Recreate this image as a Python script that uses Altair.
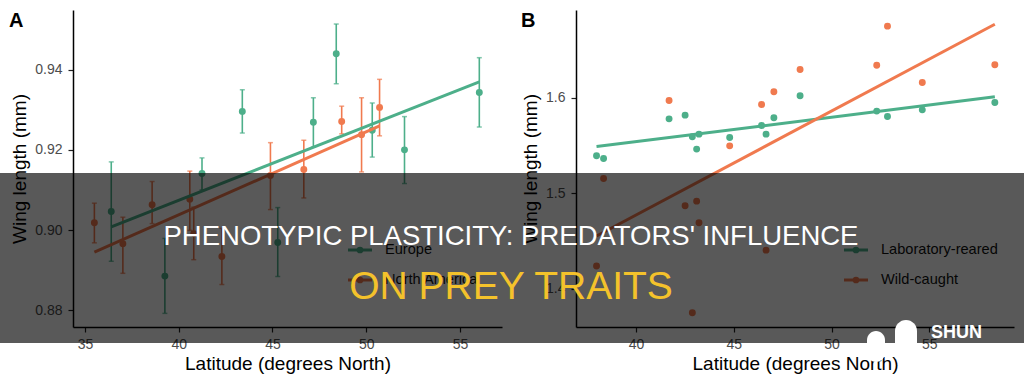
import altair as alt
import pandas as pd

# ---------------- Panel A: population means with error bars ----------------
eu_lat = [36.4, 39.26, 41.24, 43.39, 45.28, 47.18, 48.4, 50.32, 52.04, 56.03]
eu_wing = [0.9046, 0.8885, 0.9141, 0.9296, 0.8969, 0.9269, 0.9440, 0.9249, 0.9200, 0.9343]
eu_lo = [0.8922, 0.8792, 0.9100, 0.9242, 0.8884, 0.9207, 0.9365, 0.9182, 0.9116, 0.9257]
eu_hi = [0.9170, 0.8979, 0.9180, 0.9350, 0.9056, 0.9330, 0.9514, 0.9317, 0.9283, 0.9430]

na_lat = [35.5, 37.02, 38.58, 40.59, 40.8, 42.3, 44.89, 46.67, 48.69, 49.75, 50.71]
na_wing = [0.9018, 0.8966, 0.9063, 0.9077, 0.8991, 0.8934, 0.9136, 0.9151, 0.9271, 0.9238, 0.9306]
na_lo = [0.8968, 0.8892, 0.9016, 0.8999, 0.8926, 0.8864, 0.9051, 0.9080, 0.9240, 0.9145, 0.9235]
na_hi = [0.9067, 0.9032, 0.9121, 0.9147, 0.9057, 0.9004, 0.9218, 0.9224, 0.9309, 0.9330, 0.9376]

# ---------------- Panel B: lab-reared vs wild-caught, same populations ----------------
b_lat = [37.98, 38.34, 41.69, 42.51, 42.88, 43.10, 43.22, 44.79,
         46.42, 46.65, 47.05, 48.39, 52.31, 52.86, 54.64, 58.35]
lab_wing = [1.5393, 1.5365, 1.5780, 1.5819, 1.5592, 1.5463, 1.5620, 1.5585,
            1.5711, 1.5620, 1.5791, 1.6021, 1.5861, 1.5805, 1.5874, 1.5952]
wild_wing = [1.4238, 1.5156, 1.5973, 1.4869, 1.3749, 1.4918, 1.4691, 1.5497,
             1.5931, 1.4405, 1.6063, 1.6297, 1.6342, 1.6751, 1.6161, 1.6346]

series_a = ["Europe", "North America"]
series_b = ["Laboratory-reared", "Wild-caught"]

FONT = "Liberation Sans"
GREEN = "#4DAF8A"
ORANGE = "#F07A4F"
PALETTE = [GREEN, ORANGE]

headline = "PHENOTYPIC PLASTICITY: PREDATORS' INFLUENCE"
subline = "ON PREY TRAITS"
brand = "SHUN"

dfA = pd.concat([
    pd.DataFrame({"series": series_a[0], "lat": eu_lat, "wing": eu_wing, "lo": eu_lo, "hi": eu_hi}),
    pd.DataFrame({"series": series_a[1], "lat": na_lat, "wing": na_wing, "lo": na_lo, "hi": na_hi}),
], ignore_index=True)

dfB = pd.concat([
    pd.DataFrame({"series": series_b[0], "lat": b_lat, "wing": lab_wing}),
    pd.DataFrame({"series": series_b[1], "lat": b_lat, "wing": wild_wing}),
], ignore_index=True)

one = pd.DataFrame({"k": [0]})

W_A, W_B, H = 429, 438, 317

x_title = "Latitude (degrees North)"
y_title = "Wing length (mm)"


def x_enc(domain, ticks):
    return alt.X("lat:Q", scale=alt.Scale(domain=domain, nice=False, zero=False),
                 axis=alt.Axis(values=ticks, title=x_title, titlePadding=3))


def y_enc(field, domain, ticks, fmt):
    return alt.Y(f"{field}:Q", scale=alt.Scale(domain=domain, nice=False, zero=False),
                 axis=alt.Axis(values=ticks, format=fmt, title=y_title, titlePadding=5, labelPadding=6))


def color_enc(names):
    return alt.Color("series:N", scale=alt.Scale(domain=names, range=PALETTE), legend=None)


def legend_layers(names, x0, y0):
    out = []
    for i, (name, col) in enumerate(zip(names, PALETTE)):
        yy = y0 + 30 * i
        base = alt.Chart(one)
        out.append(base.mark_rule(color=col, strokeWidth=3).encode(
            x=alt.value(x0), x2=alt.value(x0 + 24), y=alt.value(yy)))
        out.append(base.mark_circle(color=col, size=45, opacity=1).encode(
            x=alt.value(x0 + 12), y=alt.value(yy)))
        out.append(base.mark_text(text=name, font=FONT, fontSize=14.6, color="#111",
                                  align="left", baseline="middle").encode(
            x=alt.value(x0 + 37), y=alt.value(yy)))
    return out


def panel_letter(letter, xpix):
    return alt.Chart(one).mark_text(text=letter, font=FONT, fontSize=20, fontWeight="bold",
                                    color="black", align="left", baseline="alphabetic").encode(
        x=alt.value(xpix), y=alt.value(17))


# ---------- Panel A ----------
xA = x_enc([34.36, 57.24], [35, 40, 45, 50, 55])
yA_dom = [0.8758, 0.9549]
yA_ticks = [0.88, 0.90, 0.92, 0.94]
cA = color_enc(series_a)

baseA = alt.Chart(dfA)
barsA = baseA.mark_rule(strokeWidth=1.6).encode(
    x=xA, y=y_enc("lo", yA_dom, yA_ticks, ".2f"), y2="hi:Q", color=cA)
capLo = baseA.mark_tick(orient="horizontal", size=5, thickness=1.5).encode(
    x=xA, y=y_enc("lo", yA_dom, yA_ticks, ".2f"), color=cA)
capHi = baseA.mark_tick(orient="horizontal", size=5, thickness=1.5).encode(
    x=xA, y=y_enc("hi", yA_dom, yA_ticks, ".2f"), color=cA)
ptsA = baseA.mark_circle(size=48, opacity=1).encode(
    x=xA, y=y_enc("wing", yA_dom, yA_ticks, ".2f"), color=cA)
fitA = baseA.transform_regression("lat", "wing", groupby=["series"]).mark_line(strokeWidth=3).encode(
    x=xA, y=y_enc("wing", yA_dom, yA_ticks, ".2f"), color=cA)

panelA = alt.layer(
    barsA, capLo, capHi, ptsA, fitA,
    *legend_layers(series_a, 275, 240),
    panel_letter("A", -64),
).properties(width=W_A, height=H)

# ---------- Panel B ----------
xB = x_enc([36.93, 59.33], [40, 45, 50, 55])
yB = y_enc("wing", [1.36, 1.692], [1.4, 1.5, 1.6], ".1f")
cB = color_enc(series_b)

baseB = alt.Chart(dfB)
ptsB = baseB.mark_circle(size=48, opacity=1).encode(x=xB, y=yB, color=cB)
fitB = baseB.transform_regression("lat", "wing", groupby=["series"]).mark_line(strokeWidth=3).encode(
    x=xB, y=yB, color=cB)

# banner across the whole figure (coordinates relative to panel B's plot origin)
OX, OY = 576, 10
band = alt.Chart(one).mark_rect(color="black", opacity=0.65).encode(
    x=alt.value(0 - OX), x2=alt.value(1024 - OX), y=alt.value(173 - OY), y2=alt.value(343 - OY))
head = alt.Chart(one).mark_text(text=headline, font=FONT, fontSize=27.5, color="white",
                                align="center", baseline="alphabetic").encode(
    x=alt.value(511 - OX), y=alt.value(245 - OY))
sub = alt.Chart(one).mark_text(text=subline, font=FONT, fontSize=39, color="#F4C22B",
                               align="center", baseline="alphabetic").encode(
    x=alt.value(511 - OX), y=alt.value(299 - OY))
blob1 = alt.Chart(one).mark_rect(color="white", cornerRadius=9).encode(
    x=alt.value(867 - OX), x2=alt.value(885 - OX), y=alt.value(331 - OY), y2=alt.value(362 - OY))
blob2 = alt.Chart(one).mark_rect(color="white", cornerRadius=11).encode(
    x=alt.value(895 - OX), x2=alt.value(917 - OX), y=alt.value(320 - OY), y2=alt.value(362 - OY))
logo = alt.Chart(one).mark_text(text=brand, font=FONT, fontSize=18, fontWeight="bold", color="white",
                                align="left", baseline="middle").encode(
    x=alt.value(931 - OX), y=alt.value(333 - OY))
# transparent frame spanning the full canvas so the figure keeps its size
frame = alt.Chart(one).mark_rect(color="white", opacity=0).encode(
    x=alt.value(0 - OX), x2=alt.value(1024 - OX), y=alt.value(0 - OY), y2=alt.value(384 - OY))

panelB = alt.layer(
    ptsB, fitB,
    *legend_layers(series_b, 268, 240),
    panel_letter("B", -55),
    band, head, sub, blob1, blob2, logo, frame,
).properties(width=W_B, height=H)

chart = alt.hconcat(panelA, panelB, spacing=74, bounds="flush").properties(
    padding=0, background="white"
).configure_view(stroke=None).configure_axis(
    grid=False, domainColor="black", domainWidth=1.5, tickColor="#222", tickWidth=1.2, tickSize=5,
    labelColor="#4D4D4D", labelFont=FONT, labelFontSize=14, labelPadding=5,
    titleFont=FONT, titleFontSize=19, titleFontWeight="normal", titleColor="black", zindex=0
)

chart.save("out.html", embed_options={"renderer": "svg", "actions": False})
